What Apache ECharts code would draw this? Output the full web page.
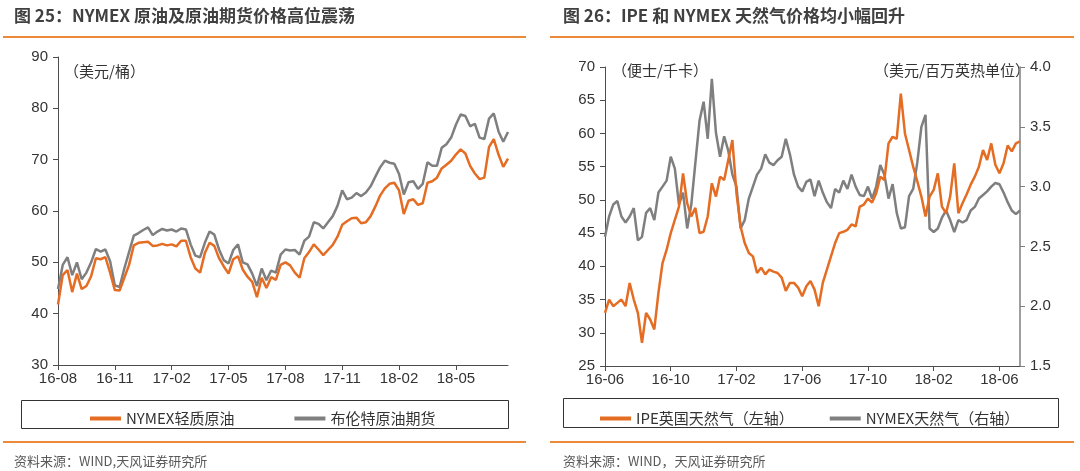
<!DOCTYPE html>
<html>
<head>
<meta charset="utf-8">
<script src="https://cdn.jsdelivr.net/npm/echarts/dist/echarts.min.js"></script>
<style>
  html, body { margin: 0; padding: 0; background: #fff; }
  #main { width: 1080px; height: 471px; }
</style>
</head>
<body>
<div id="main"></div>
<script>
// 图25: 4 points per month, from 2016-08
const wti = [41.8,47.5,48.5,44.2,47.8,44.8,45.4,47.3,50.8,50.6,
  51,48,44.6,44.5,47,49.5,53.3,53.8,53.9,54,
  53.2,53.3,53.6,53.3,53.5,53.1,54.2,54.2,51,48.8,
  48,51.8,53.8,53.2,50.8,49.2,47.8,50.6,51.2,48.6,
  47.2,46.2,43.2,47,45,47.1,46.6,49.5,50,49.4,
  48,47,50.8,52,53.5,52.5,51.4,52.4,53.4,55,
  57.3,58,58.6,58.7,57.6,57.8,59,60.9,63,64.4,
  65.3,65.5,64,59.4,62,62.3,61.2,61.5,65.5,65.8,
  66.5,68.3,69,69.8,71,72,71.2,68.8,67.3,66.2,
  66.5,72.5,74,71,68.6,70.2];
const brent = [44.8,49.5,51,47.5,50,46.7,48,50,52.6,52.1,
  52.5,50.2,45.5,45.2,48.8,52,55.2,55.7,56.3,56.8,
  55.3,56,56.5,56.2,56.4,56,56.6,56.4,53.5,51.3,
  51,53.8,56,55.4,52.5,50.4,49.8,52.4,53.5,50,
  49.6,47.8,45.4,48.8,46.5,48.4,48,51.5,52.5,52.3,
  52.4,51.5,54.2,55,57.8,57.5,56.6,57.8,59,61,
  64,62.3,62.6,63.5,62.9,63.6,64.8,66.7,68.5,69.8,
  69.4,69.2,67.2,63.2,65.6,65.8,64.3,65.3,69.5,68.8,
  68.8,72.3,73,74.3,76.8,78.8,78.5,76.5,77,74.3,
  74,78,79,75.5,73.5,75.4];

// 图26: 4 points per month, from 2016-06
const ipe = [33,35,34,34.5,35,34,37.5,35,33,28.5,
  33,32,30.5,36,40.5,42.5,45,47,49,54,
  49.5,47.5,48.8,45,45.2,47.5,52.5,50.5,53.5,53,
  56,59,51,46,43.5,42,41.5,39,39.8,38.8,
  39.5,39.2,39,38.3,36.3,37.5,37.5,36.8,35.5,37,
  37.8,36.5,34,37.5,39.5,41.5,43.5,45,45.2,45.5,
  46.3,46,49,49.3,50.2,49.6,51,53.5,53,58.5,
  59.5,59.2,66,60,57.5,55,52.8,50.5,47.5,50.5,
  51.5,54,49,48,50.5,55.5,48,49.5,50.8,52.3,
  53.5,55,57.5,56,58.5,55.3,54,55.5,58.2,57.3,
  58.5,58.8];
const nymexGas = [2.58,2.75,2.85,2.88,2.75,2.70,2.75,2.82,2.55,2.58,
  2.78,2.82,2.72,2.95,3.0,3.05,3.25,3.15,2.85,2.95,
  2.65,2.85,3.2,3.55,3.71,3.4,3.9,3.45,3.25,3.42,
  3.3,3.1,3.0,2.65,2.72,2.9,3.0,3.1,3.15,3.27,
  3.2,3.18,3.22,3.25,3.4,3.27,3.1,3.0,2.96,3.04,
  3.06,2.92,3.05,2.95,2.87,2.82,2.98,2.95,3.05,2.98,
  3.1,3.0,2.93,2.92,3.0,2.9,3.0,3.18,3.1,2.9,
  3.02,2.78,2.65,2.66,2.92,2.98,3.2,3.5,3.6,2.65,
  2.62,2.65,2.74,2.8,2.72,2.62,2.72,2.70,2.72,2.8,
  2.83,2.9,2.93,2.96,3.0,3.03,3.02,2.95,2.87,2.8,
  2.77,2.8];

const ORANGE = '#E46C23';
const GRAY = '#7F7F7F';
const RULE = '#EC8A3C';
const FONT = "'Liberation Sans','Noto Sans CJK SC',sans-serif";
const CJK = "'Noto Sans CJK SC','Liberation Sans',sans-serif";

// category labels like '16-08', '16-08#1' ... (4 per month)
function buildCats(year, month, count) {
  const cats = [];
  for (let i = 0; i < count; i++) {
    const m0 = month - 1 + Math.floor(i / 4);
    const y = year + Math.floor(m0 / 12);
    const m = m0 % 12 + 1;
    const label = String(y).slice(2) + '-' + String(m).padStart(2, '0');
    cats.push(i % 4 === 0 ? label : label + '#' + (i % 4));
  }
  return cats;
}
const oilCats = buildCats(2016, 8, wti.length);
const gasCats = buildCats(2016, 6, ipe.length);

const axisColor = '#4d4d4d';
const labelStyle = { color: '#333', fontSize: 15, fontFamily: FONT };

function catAxis(gridIndex, cats, every) {
  const fn = (idx) => idx % every === 0;
  return {
    type: 'category', gridIndex: gridIndex, data: cats, boundaryGap: false,
    axisLine: { lineStyle: { color: axisColor, width: 1 } },
    axisTick: { interval: fn, length: 5, lineStyle: { color: axisColor } },
    axisLabel: Object.assign({ interval: fn, margin: 6, formatter: v => v.split('#')[0] }, labelStyle),
    splitLine: { show: false }
  };
}

function valAxis(gridIndex, min, max, step, pos, color, fmt) {
  return {
    type: 'value', gridIndex: gridIndex, position: pos, min: min, max: max, interval: step,
    axisLine: { show: true, lineStyle: { color: color, width: pos === 'right' ? 1.5 : 1 } },
    axisTick: { show: true, length: 5, lineStyle: { color: color } },
    axisLabel: Object.assign({ margin: 10, formatter: fmt }, labelStyle),
    splitLine: { show: false }
  };
}

const chart = echarts.init(document.getElementById('main'));
chart.setOption({
  animation: false,
  backgroundColor: '#fff',
  grid: [
    { left: 58, top: 57, width: 450, height: 308 },
    { left: 605, top: 67, width: 415, height: 299 }
  ],
  xAxis: [catAxis(0, oilCats, 12), catAxis(1, gasCats, 16)],
  yAxis: [
    valAxis(0, 30, 90, 10, 'left', axisColor),
    valAxis(1, 25, 70, 5, 'left', axisColor),
    valAxis(1, 1.5, 4.0, 0.5, 'right', '#7f7f7f', v => v.toFixed(1))
  ],
  legend: [
    {
      data: ['NYMEX轻质原油', '布伦特原油期货'], left: 85, top: 406,
      icon: 'rect', itemWidth: 31, itemHeight: 4, itemGap: 60,
      textStyle: { fontSize: 15, color: '#333', fontFamily: CJK }
    },
    {
      data: ['IPE英国天然气（左轴）', 'NYMEX天然气（右轴）'], left: 595, top: 406,
      icon: 'rect', itemWidth: 31, itemHeight: 4, itemGap: 36,
      textStyle: { fontSize: 15, color: '#333', fontFamily: CJK }
    }
  ],
  series: [
    { name: 'NYMEX轻质原油', type: 'line', xAxisIndex: 0, yAxisIndex: 0, data: wti,
      showSymbol: false, z: 3, lineStyle: { width: 2.5, color: ORANGE }, itemStyle: { color: ORANGE } },
    { name: '布伦特原油期货', type: 'line', xAxisIndex: 0, yAxisIndex: 0, data: brent,
      showSymbol: false, z: 2, lineStyle: { width: 2.5, color: GRAY }, itemStyle: { color: GRAY } },
    { name: 'IPE英国天然气（左轴）', type: 'line', xAxisIndex: 1, yAxisIndex: 1, data: ipe,
      showSymbol: false, z: 3, lineStyle: { width: 2.5, color: ORANGE }, itemStyle: { color: ORANGE } },
    { name: 'NYMEX天然气（右轴）', type: 'line', xAxisIndex: 1, yAxisIndex: 2, data: nymexGas,
      showSymbol: false, z: 2, lineStyle: { width: 2.5, color: GRAY }, itemStyle: { color: GRAY } }
  ],
  graphic: [
    // titles
    { type: 'text', x: 14, y: 16, style: { text: '图 25：NYMEX 原油及原油期货价格高位震荡', font: 'bold 17px ' + CJK, fill: '#404040', verticalAlign: 'middle' } },
    { type: 'text', x: 563, y: 16, style: { text: '图 26：IPE 和 NYMEX 天然气价格均小幅回升', font: 'bold 17px ' + CJK, fill: '#404040', verticalAlign: 'middle' } },
    // orange rules
    { type: 'line', shape: { x1: 3, y1: 37, x2: 526, y2: 37 }, style: { stroke: RULE, lineWidth: 2 } },
    { type: 'line', shape: { x1: 550, y1: 37, x2: 1074, y2: 37 }, style: { stroke: RULE, lineWidth: 2 } },
    { type: 'line', shape: { x1: 3, y1: 442, x2: 526, y2: 442 }, style: { stroke: RULE, lineWidth: 2 } },
    { type: 'line', shape: { x1: 550, y1: 442, x2: 1074, y2: 442 }, style: { stroke: RULE, lineWidth: 2 } },
    // units
    { type: 'text', x: 64, y: 71, style: { text: '（美元/桶）', font: '15px ' + CJK, fill: '#333', verticalAlign: 'middle' } },
    { type: 'text', x: 612, y: 70, style: { text: '（便士/千卡）', font: '15px ' + CJK, fill: '#333', verticalAlign: 'middle' } },
    { type: 'text', x: 1030, y: 70, style: { text: '（美元/百万英热单位）', font: '15px ' + CJK, fill: '#333', align: 'right', verticalAlign: 'middle' } },
    // legend boxes
    { type: 'rect', shape: { x: 21.5, y: 400.5, width: 487, height: 28 }, style: { fill: 'none', stroke: '#333', lineWidth: 1 } },
    { type: 'rect', shape: { x: 563.5, y: 398.5, width: 495, height: 29 }, style: { fill: 'none', stroke: '#333', lineWidth: 1 } },
    // sources
    { type: 'text', x: 14, y: 461, style: { text: '资料来源：WIND,天风证券研究所', font: '13px ' + CJK, fill: '#595959', verticalAlign: 'middle' } },
    { type: 'text', x: 563, y: 461, style: { text: '资料来源：WIND，天风证券研究所', font: '13px ' + CJK, fill: '#595959', verticalAlign: 'middle' } }
  ]
});
</script>
</body>
</html>
